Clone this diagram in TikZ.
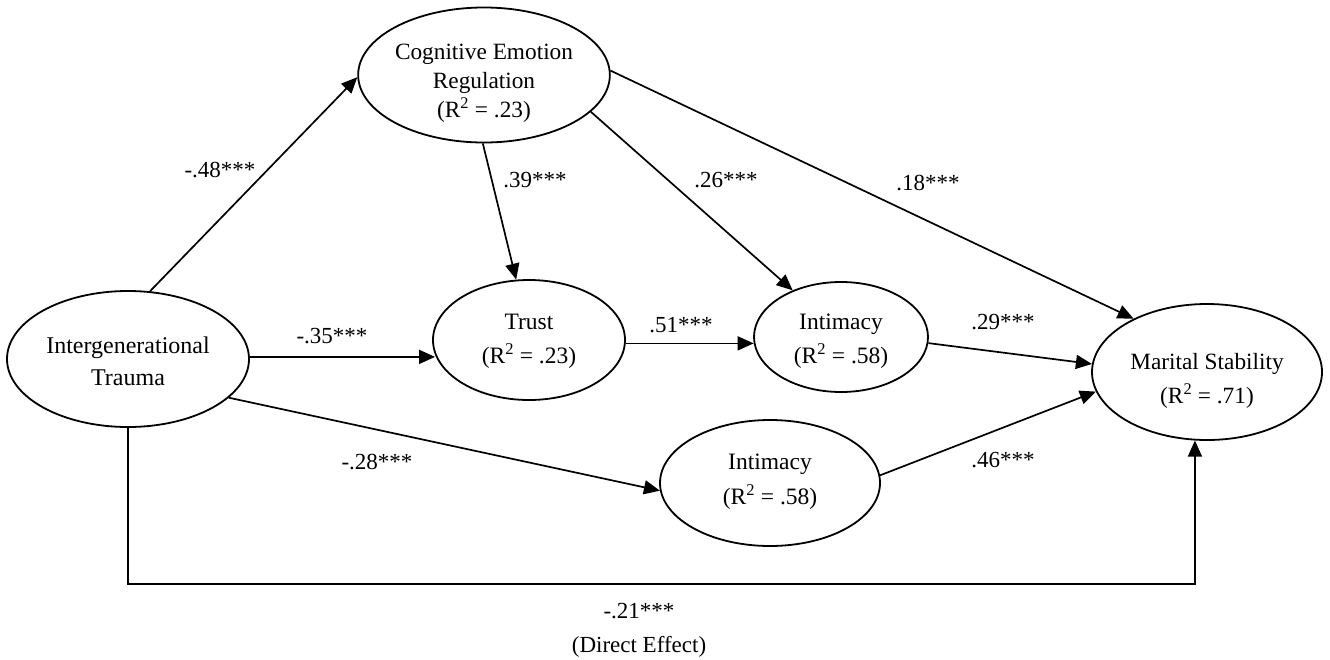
\documentclass[tikz,border=0pt]{standalone}
\usepackage{fontspec}
\setmainfont{Liberation Serif}
\usetikzlibrary{arrows.meta,shapes.geometric}
\newcommand{\nodetext}[4]{\raisebox{\dimexpr-#1pt-0.25em\relax}[0pt][0pt]{\fontsize{#4}{#2}\selectfont\begin{tabular}{@{}c@{}}#3\end{tabular}}}
\begin{document}
\begin{tikzpicture}[x=1pt,y=-1pt,
  every node/.style={font=\fontsize{23}{30}\selectfont},
  latent/.style={draw, ellipse, line width=1.8pt, inner sep=0pt},
  path/.style={line width=1.7pt, -{Triangle[length=16pt,width=14pt]}},
  coef/.style={inner sep=1pt, align=center}]
\useasboundingbox (0,0) rectangle (1330,659);
\node[latent, minimum width=236pt, minimum height=135pt] (cer) at (484,75) {\nodetext{8}{29}{Cognitive Emotion\\Regulation\\(R\textsuperscript{2} = .23)}{23.3}};
\node[latent, minimum width=242pt, minimum height=136pt] (it) at (128,359) {\nodetext{5}{32}{Intergenerational\\Trauma}{24}};
\node[latent, minimum width=192pt, minimum height=120pt] (tr) at (529,340) {\nodetext{0}{34}{Trust\\(R\textsuperscript{2} = .23)}{23.5}};
\node[latent, minimum width=174pt, minimum height=110pt] (i1) at (841,337) {\nodetext{3}{34}{Intimacy\\(R\textsuperscript{2} = .58)}{23.5}};
\node[latent, minimum width=220pt, minimum height=126pt] (i2) at (770,483) {\nodetext{-3}{35}{Intimacy\\(R\textsuperscript{2} = .58)}{23.5}};
\node[latent, minimum width=230pt, minimum height=136pt] (ms) at (1207,372) {\nodetext{8}{34}{Marital Stability\\(R\textsuperscript{2} = .71)}{23.3}};
\coordinate (dcorner) at (1195,584);

\draw[path] (it.72) -- (cer.181);
\draw[path] (it.1.9) -- (it.1.9 -| tr.189);
\draw[path] (tr.358.2) -- (tr.358.2 -| i1.184);
\draw[path] (it.339) -- (i2.184.5);
\draw[path] (cer.269) -- (tr.102);
\draw[path] (cer.341.6) -- (i1.136.7);
\draw[path] (cer.2.4) -- (ms.144);
\draw[path] (i1.356.7) -- (ms.176.5);
\draw[path] (i2.4.6) -- (ms.190);
\draw[path] (it.south) |- (dcorner) -- (ms.260);

\node[coef] (l48) at (220,170) {-.48***};
\node[coef] (l39) at (535,180) {.39***};
\node[coef] (l26) at (726,180) {.26***};
\node[coef] (l18) at (928,183) {.18***};
\node[coef] (l35) at (332,336) {-.35***};
\node[coef] (l51) at (681,325) {.51***};
\node[coef] (l29) at (1003,322) {.29***};
\node[coef] (l28) at (377,462) {-.28***};
\node[coef] (l46) at (1003,460) {.46***};
\node[coef, font=\fontsize{23}{34}\selectfont] (l21) at (639,630) {-.21***\\(Direct Effect)};
\end{tikzpicture}
\end{document}
